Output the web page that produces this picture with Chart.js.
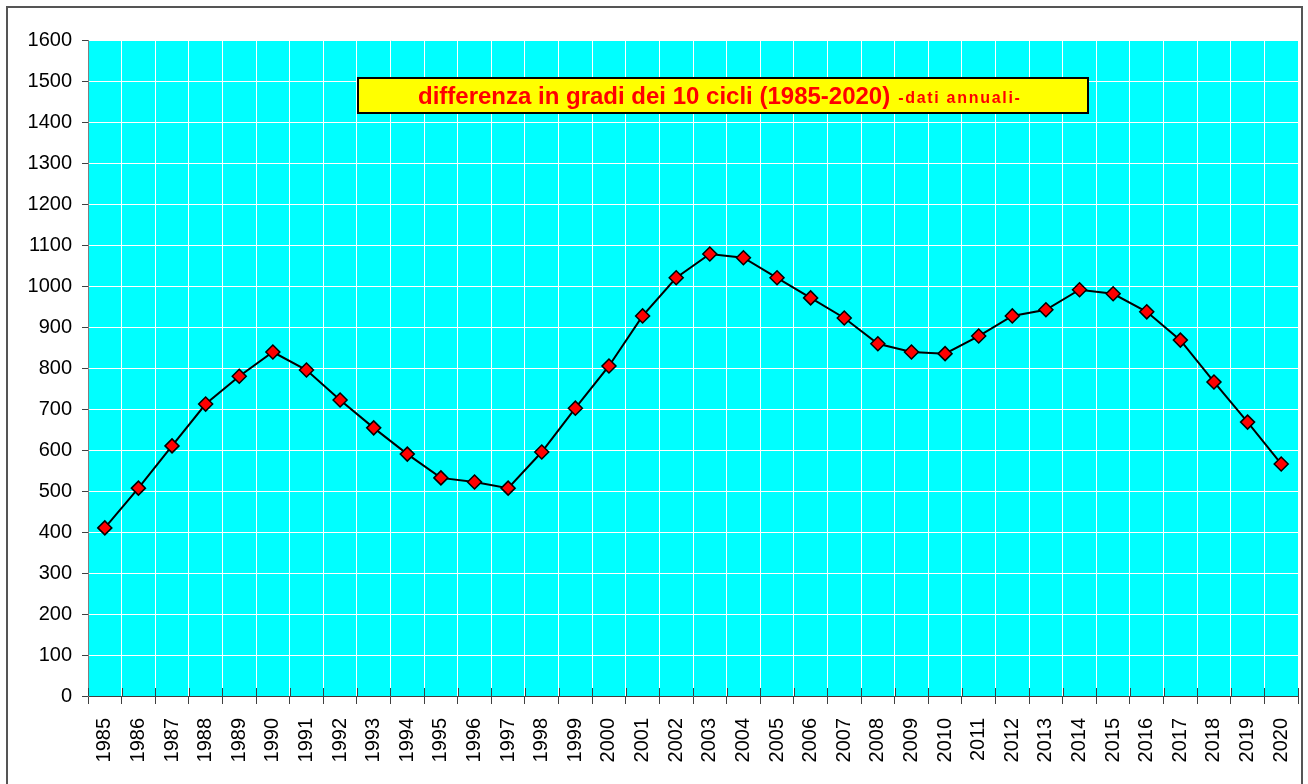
<!DOCTYPE html>
<html>
<head>
<meta charset="utf-8">
<script src="https://cdn.jsdelivr.net/npm/chart.js@4/dist/chart.umd.min.js"></script>
<style>
    html, body { margin: 0; padding: 0; background: #fff; overflow: hidden; }
    #wrap { position: relative; width: 1308px; height: 784px; }
    #cornice { position: absolute; left: 6px; top: 6px; width: 1297px; height: 800px; border: 2px solid #555; box-sizing: border-box; pointer-events: none; }
</style>
</head>
<body>
<div id="wrap">
    <canvas id="grafico" width="1308" height="784"></canvas>
    <div id="cornice"></div>
</div>
<script>
// anni e valori (differenza in gradi dei 10 cicli)
const anni = ['1985','1986','1987','1988','1989','1990','1991','1992','1993','1994',
    '1995','1996','1997','1998','1999','2000','2001','2002','2003','2004',
    '2005','2006','2007','2008','2009','2010','2011','2012','2013','2014',
    '2015','2016','2017','2018','2019','2020'];
const differenza = [410, 507, 610, 712, 780, 839, 795, 722, 654, 590,
    532, 522, 507, 595, 702, 805, 927, 1020, 1078, 1069,
    1020, 971, 922, 859, 839, 835, 878, 927, 942, 991,
    981, 937, 868, 766, 668, 566];
const titolo = 'differenza in gradi dei 10 cicli (1985-2020)';
const sottotitolo = '-dati annuali-';

// sfondo azzurro dell'area del grafico
const sfondoArea = {
    id: 'sfondoArea',
    beforeDraw(chart) {
        const { ctx, chartArea: a } = chart;
        ctx.save();
        ctx.fillStyle = '#00FFFF';
        ctx.fillRect(a.left, a.top, a.right - a.left, a.bottom - a.top);
        ctx.restore();
    }
};

// tacche sopra l'asse x (incrociate) e riquadro del titolo
const decorazioni = {
    id: 'decorazioni',
    afterDatasetsDraw(chart) {
        const { ctx, chartArea: a, scales } = chart;
        const x = scales.x;
        const passo = x.getPixelForValue(1) - x.getPixelForValue(0);
        ctx.save();
        ctx.strokeStyle = '#404040';
        ctx.lineWidth = 1;
        for (let i = 0; i <= anni.length; i++) {
            const px = Math.round(x.getPixelForValue(0) - passo / 2 + i * passo) + 0.5;
            ctx.beginPath();
            ctx.moveTo(px, a.bottom);
            ctx.lineTo(px, a.bottom - 8);
            ctx.stroke();
        }

        // riquadro titolo
        const bx = 358, by = 78, bw = 730, bh = 35;
        ctx.fillStyle = '#FFFF00';
        ctx.fillRect(bx, by, bw, bh);
        ctx.strokeStyle = '#000';
        ctx.lineWidth = 2;
        ctx.strokeRect(bx, by, bw, bh);

        ctx.fillStyle = '#FF0000';
        ctx.textBaseline = 'alphabetic';
        ctx.textAlign = 'left';
        ctx.font = 'bold 24px "Liberation Sans", Arial, sans-serif';
        const w1 = ctx.measureText(titolo).width;
        const sx = 418;
        ctx.fillText(titolo, sx, 104);
        ctx.font = 'bold 16px "Liberation Sans", Arial, sans-serif';
        ctx.letterSpacing = '1.7px';
        ctx.fillText(sottotitolo, sx + w1 + 8, 103);
        ctx.restore();
    }
};

const ctx = document.getElementById('grafico').getContext('2d');
new Chart(ctx, {
    type: 'line',
    data: {
        labels: anni,
        datasets: [{
            label: 'differenza',
            data: differenza,
            borderColor: '#000',
            borderWidth: 2,
            tension: 0,
            pointStyle: 'rectRot',
            pointRadius: 7,
            pointBackgroundColor: '#FF0000',
            pointBorderColor: '#000',
            pointBorderWidth: 1.5
        }]
    },
    options: {
        responsive: false,
        animation: false,
        layout: { padding: { left: 0, top: 40, right: 10, bottom: 0 } },
        plugins: {
            legend: { display: false },
            tooltip: { enabled: false }
        },
        scales: {
            x: {
                offset: true,
                grid: { offset: true, color: '#FFFFFF', tickColor: '#404040', tickLength: 8, lineWidth: 1 },
                border: { color: '#404040', width: 1 },
                ticks: {
                    color: '#000',
                    font: { family: '"Liberation Sans", Arial, sans-serif', size: 20 },
                    minRotation: 90, maxRotation: 90,
                    autoSkip: false,
                    padding: 14
                },
                afterFit(s) { s.height = 88; s.paddingLeft = 0; s.paddingRight = 0; }
            },
            y: {
                min: 0, max: 1600,
                ticks: {
                    stepSize: 100,
                    color: '#000',
                    font: { family: '"Liberation Sans", Arial, sans-serif', size: 20 },
                    padding: 10,
                    callback: (v) => String(v)
                },
                grid: { color: '#FFFFFF', tickColor: '#404040', tickLength: 6, lineWidth: 1 },
                border: { color: '#808080', width: 1 },
                afterFit(s) { s.width = 88; s.paddingTop = 0; s.paddingBottom = 0; }
            }
        }
    },
    plugins: [sfondoArea, decorazioni]
});
</script>
</body>
</html>
